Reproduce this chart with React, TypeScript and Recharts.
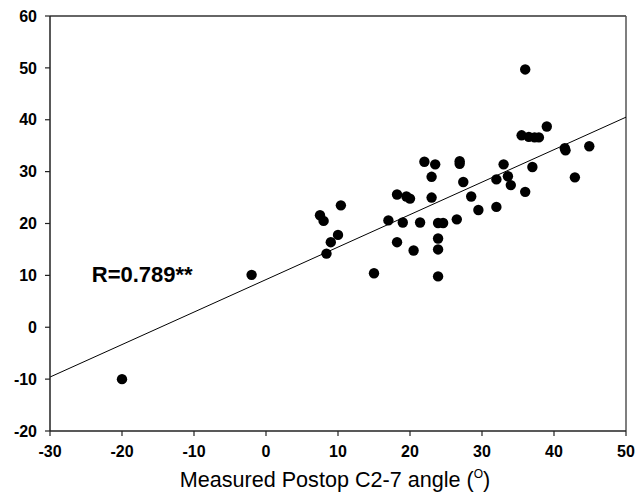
import React from "react";
import {
  ScatterChart,
  Scatter,
  XAxis,
  YAxis,
  ReferenceLine,
  ReferenceDot,
} from "recharts";

const measuredAngle: number[] = [
  -20, -2, 7.5, 8.0, 8.4, 9.0, 10.0, 10.4, 15.0, 17.0, 18.2, 18.2, 19.0, 19.5,
  20.0, 20.5, 21.4, 22.0, 23.0, 23.0, 23.5, 23.9, 23.9, 23.9, 23.9, 24.6, 26.5,
  26.9, 26.9, 27.4, 28.5, 29.5, 32.0, 32.0, 33.0, 33.6, 34.0, 35.5, 36.0, 36.0,
  36.5, 37.0, 37.3, 37.9, 39.0, 41.5, 41.6, 42.9, 44.9,
];
const predictedAngle: number[] = [
  -10, 10.1, 21.6, 20.5, 14.2, 16.4, 17.8, 23.5, 10.4, 20.6, 25.6, 16.4, 20.2,
  25.2, 24.8, 14.8, 20.2, 31.9, 29.0, 25.0, 31.4, 20.1, 17.1, 15.0, 9.8, 20.1,
  20.8, 32.0, 31.5, 28.0, 25.2, 22.6, 28.5, 23.2, 31.4, 29.1, 27.4, 37.0, 49.7,
  26.1, 36.7, 30.9, 36.6, 36.6, 38.7, 34.5, 34.1, 28.9, 34.9,
];
const xTicks: number[] = [-30, -20, -10, 0, 10, 20, 30, 40, 50];
const yTicks: number[] = [-20, -10, 0, 10, 20, 30, 40, 50, 60];
const fitStart = { x: -30, y: -9.6 };
const fitEnd = { x: 50, y: 40.5 };
const rLabel = "R=0.789**";
const xLabelMain = "Measured Postop C2-7 angle (";
const xLabelSup = "O";
const xLabelEnd = ")";

const points = measuredAngle.map((x, i) => ({ x, y: predictedAngle[i] }));

const FONT = "Arial, 'Liberation Sans', Helvetica, sans-serif";
const tickStyle = {
  fontFamily: FONT,
  fontSize: 16,
  fontWeight: 700,
  fill: "#000",
};

const Dot = (p: any) => <circle cx={p.cx} cy={p.cy} r={5.2} fill="#000" />;

const XLabel = (props: any) => {
  const vb = props.viewBox || {};
  const cx = vb.x + vb.width / 2 - 3;
  const y = vb.y + 56;
  return (
    <text
      x={cx}
      y={y}
      textAnchor="middle"
      fontFamily={FONT}
      fontSize={21.6}
      fill="#000"
    >
      <tspan>{xLabelMain}</tspan>
      <tspan fontSize={12} dy={-9}>
        {xLabelSup}
      </tspan>
      <tspan dy={9}>{xLabelEnd}</tspan>
    </text>
  );
};

const RText = (props: any) => {
  const vb = props.viewBox || {};
  return (
    <text
      x={vb.x}
      y={vb.y + 7}
      fontFamily={FONT}
      fontSize={22}
      fontWeight={700}
      fill="#000"
    >
      {rLabel}
    </text>
  );
};

export default function App() {
  return (
    <div style={{ position: "absolute", left: 0, top: 0, background: "#fff" }}>
      <ScatterChart
        width={644}
        height={496}
        margin={{ top: 16, right: 18, bottom: 0, left: 0 }}
      >
        <XAxis
          type="number"
          dataKey="x"
          domain={[-30, 50]}
          ticks={xTicks}
          allowDataOverflow
          height={65}
          tickSize={5}
          tickMargin={10}
          tick={tickStyle}
          axisLine={{ stroke: "#222", strokeWidth: 1.5 }}
          tickLine={{ stroke: "#222", strokeWidth: 1.2 }}
          label={{ content: XLabel }}
        />
        <YAxis
          type="number"
          dataKey="y"
          domain={[-20, 60]}
          ticks={yTicks}
          allowDataOverflow
          width={50}
          tickSize={5}
          tickMargin={8}
          tick={tickStyle}
          axisLine={{ stroke: "#222", strokeWidth: 1.5 }}
          tickLine={{ stroke: "#222", strokeWidth: 1.2 }}
        />
        <ReferenceLine y={60} stroke="#333" strokeWidth={1.5} />
        <ReferenceLine x={50} stroke="#555" strokeWidth={1.5} />
        <ReferenceLine
          segment={[fitStart, fitEnd]}
          stroke="#000"
          strokeWidth={1}
          ifOverflow="visible"
        />
        <Scatter
          data={points}
          shape={Dot}
          isAnimationActive={false}
        />
        <ReferenceDot
          x={-24.2}
          y={10}
          r={0}
          fill="none"
          stroke="none"
          label={{ content: RText }}
        />
      </ScatterChart>
    </div>
  );
}
